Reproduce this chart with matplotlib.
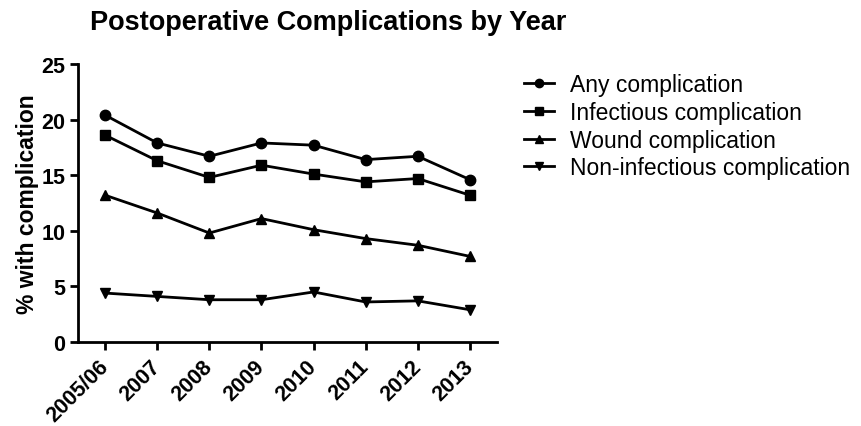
import matplotlib.pyplot as plt
import numpy as np

plt.rcParams['font.family'] = ['Liberation Sans', 'DejaVu Sans']

years = ['2005/06', '2007', '2008', '2009', '2010', '2011', '2012', '2013']
any_comp = [20.4, 17.9, 16.7, 17.9, 17.7, 16.4, 16.7, 14.6]
infectious = [18.6, 16.3, 14.8, 15.9, 15.1, 14.4, 14.7, 13.2]
wound = [13.2, 11.6, 9.8, 11.1, 10.1, 9.3, 8.7, 7.7]
non_infectious = [4.4, 4.1, 3.8, 3.8, 4.5, 3.6, 3.7, 2.9]

fig = plt.figure(figsize=(8.62, 4.27), dpi=100)
ax = fig.add_axes([0.0905, 0.1967, 0.4861, 0.6511])

x = np.arange(len(years))
style = dict(color='black', lw=2, ms=7.5, clip_on=False)
ax.plot(x, any_comp, marker='o', label='Any complication', **style)
ax.plot(x, infectious, marker='s', label='Infectious complication', **style)
ax.plot(x, wound, marker='^', label='Wound complication', **style)
ax.plot(x, non_infectious, marker='v', label='Non-infectious complication', **style)

ax.set_xlim(-0.52, 7.52)
ax.set_ylim(0, 25)
ax.set_yticks([0, 5, 10, 15, 20, 25])
ax.set_xticks(x)
ax.set_xticklabels(years, rotation=45, ha='right', va='center', rotation_mode='anchor')
for s in ['top', 'right']:
    ax.spines[s].set_visible(False)
for s in ['left', 'bottom']:
    ax.spines[s].set_linewidth(2)
ax.tick_params(width=2, length=6, labelsize=15.5, pad=3)
ax.tick_params(axis='x', pad=9)
for lab in ax.get_xticklabels() + ax.get_yticklabels():
    lab.set_fontweight('bold')

ax.set_ylabel('% with complication', fontsize=16.5, fontweight='bold', labelpad=2)
fig.text(0.104, 0.945, 'Postoperative Complications by Year', fontsize=19.5,
         fontweight='bold', va='center')

ax.legend(loc='upper left', bbox_to_anchor=(1.015, 1.04), frameon=False,
          fontsize=16.5, markerscale=0.8, handlelength=1.3, handletextpad=0.7,
          labelspacing=0.2)

fig.savefig('out.png', dpi=100)
